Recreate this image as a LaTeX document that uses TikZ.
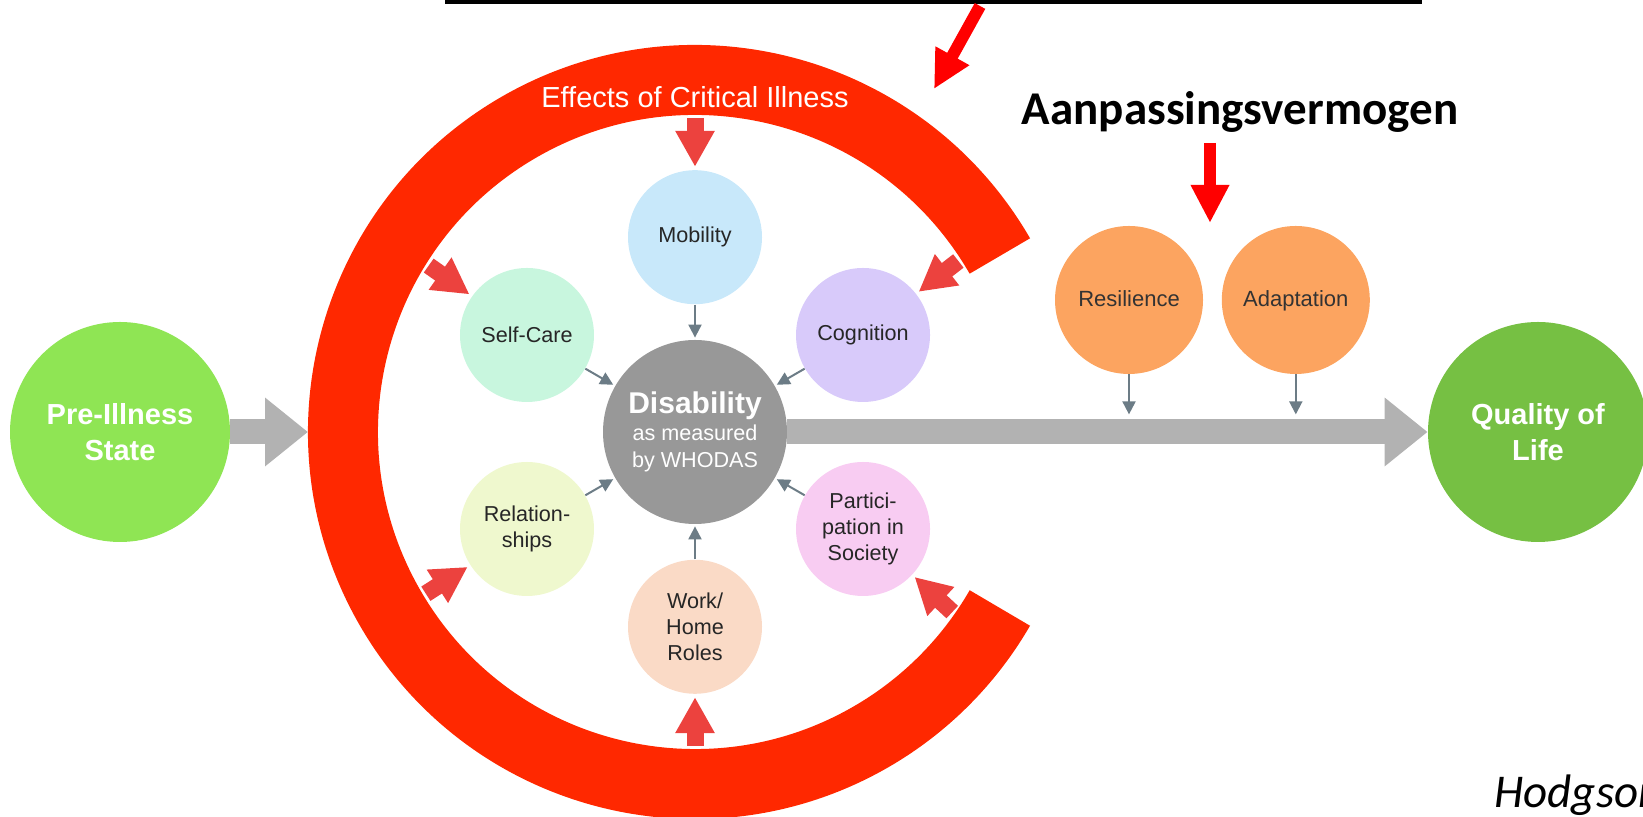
\documentclass[tikz,border=0pt]{standalone}
\usepackage{fontspec}
\setmainfont{Liberation Sans}
\newfontfamily\calibri{Carlito}
\usepackage{tikz}
\usetikzlibrary{arrows.meta,positioning,calc}
\definecolor{ringred}{RGB}{255, 40, 0}
\definecolor{blockred}{RGB}{236, 66, 62}
\definecolor{pregreen}{RGB}{143, 229, 84}
\definecolor{qolgreen}{RGB}{118, 192, 67}
\definecolor{disgray}{RGB}{152, 152, 152}
\definecolor{fatgray}{RGB}{178, 178, 178}
\definecolor{slate}{RGB}{108, 124, 134}
\definecolor{mobblue}{RGB}{200, 232, 250}
\definecolor{selfmint}{RGB}{200, 246, 222}
\definecolor{coglav}{RGB}{216, 202, 250}
\definecolor{relyellow}{RGB}{239, 248, 206}
\definecolor{partpink}{RGB}{248, 204, 242}
\definecolor{workpeach}{RGB}{250, 218, 198}
\definecolor{resorange}{RGB}{252, 164, 96}
\tikzstyle{sat} = [circle, draw=none, text=black!85, align=center, font=\fontsize{10.8}{13}\selectfont, minimum size=67pt, inner sep=0pt]
\tikzstyle{big} = [circle, draw=none, text=white, align=center, font=\bfseries\fontsize{14.5}{18}\selectfont, minimum size=110pt, inner sep=0pt]
\tikzstyle{adapt} = [circle, draw=none, fill=resorange, text=black!80, font=\fontsize{11}{13}\selectfont, text height=1.6ex, text depth=.3ex, minimum size=74pt, inner sep=0pt]
\tikzstyle{ring} = [draw=ringred, line width=35pt]
\tikzstyle{gedge} = [draw=slate, line width=1pt, -{Triangle[width=6.5pt, length=6.5pt]}, shorten >=1pt]
\tikzstyle{fatedge} = [draw=fatgray, line width=12.5pt, -{Triangle[width=33pt, length=21.5pt]}]
\tikzstyle{redge} = [draw=blockred, line width=8.5pt, -{Triangle[width=18.5pt, length=18pt]}, shorten >=1.5pt]
\tikzstyle{ptr} = [draw=red, line width=6pt, -{Triangle[width=18pt, length=19pt]}]
\tikzstyle{callout} = [anchor=base, inner sep=0pt, text=black]

\begin{document}
\begin{tikzpicture}[x=0.5pt, y=0.5pt]
\useasboundingbox (0,0) rectangle (1643,817);

% disability and its domains =============================
\node[circle, fill=disgray, text=white, align=center, minimum size=92pt, inner sep=0pt, font=\fontsize{10.8}{13.5}\selectfont] (dis) at (695,385)
  {{\bfseries\fontsize{15}{15}\selectfont Disability}\\ as measured\\ by WHODAS};
\node[sat, fill=mobblue, above=17.5pt of dis] (mob) {Mobility};
\node[sat, fill=workpeach, below=17.5pt of dis] (work) {Work/\\Home\\Roles};
\node[sat, fill=selfmint] (self) at ($(dis)+(150:97pt)$) {Self-Care};
\node[sat, fill=coglav] (cog) at ($(dis)+(30:97pt)$) {Cognition};
\node[sat, fill=relyellow] (rel) at ($(dis)+(210:97pt)$) {Relation-\\ships};
\node[sat, fill=partpink] (part) at ($(dis)+(330:97pt)$) {Partici-\\pation in\\Society};

% states
\node[big, fill=pregreen] (pre) at (120,385) {Pre-Illness\\State};
\node[big, fill=qolgreen] (qol) at (1538,385) {Quality of\\Life};
\node[adapt] (res) at (1129,517) {Resilience};
\node[adapt, right=9pt of res] (ada) {Adaptation};

% effects ring
\draw[ring] ($(dis)+(30:176pt)$) arc[start angle=30, end angle=330, radius=176pt];
\node[text=white, font=\fontsize{14.5}{17}\selectfont] (eff) at ($(dis)+(0,167.5pt)$) {Effects of Critical Illness};
\coordinate (ringw) at ($(dis)+(180:193.5pt)$);
\coordinate (e1) at ($(dis)+(90:157pt)$);
\coordinate (e2) at ($(dis)+(33:157pt)$);
\coordinate (e3) at ($(dis)+(148:157pt)$);
\coordinate (e4) at ($(dis)+(211:157pt)$);
\coordinate (e5) at ($(dis)+(270:157pt)$);
\coordinate (e6) at ($(dis)+(325:157pt)$);

% edges
\path[redge] (e1) -- (mob);
\path[redge] (e2) -- (cog);
\path[redge] (e3) -- (self);
\path[redge] (e4) -- (rel);
\path[redge] (e5) -- (work);
\path[redge] (e6) -- (part);

\path[gedge] (mob) -- (dis);
\path[gedge] (self) -- (dis);
\path[gedge] (cog) -- (dis);
\path[gedge] (rel) -- (dis);
\path[gedge] (part) -- (dis);
\path[gedge] (work) -- (dis);

\path[fatedge] (pre) -- (ringw);
\path[fatedge] (dis) -- (qol);

\coordinate[below=21pt of res] (resT);
\coordinate[below=21pt of ada] (adaT);
\path[gedge] (res) -- (resT);
\path[gedge] (ada) -- (adaT);

% annotations
\node[callout, font=\calibri\bfseries\fontsize{23.5}{28}\selectfont] (aan) at (1240,692) {Aanpassingsvermogen};
\coordinate (aanA) at (1210,674);
\coordinate (aanB) at (1210,594);
\path[ptr] (aanA) -- (aanB);

\coordinate (ulA) at (445,814.5);
\coordinate (ulB) at (1422,814.5);
\draw[line width=2pt] (ulA) -- (ulB);
\coordinate (ptA) at (980,811);
\coordinate (ptB) at (934,728);
\path[ptr] (ptA) -- (ptB);

\node[callout, anchor=base west, font=\calibri\itshape\fontsize{23.5}{28}\selectfont] (hodg) at (1494,9) {Hodgson};

\end{tikzpicture}
\end{document}
